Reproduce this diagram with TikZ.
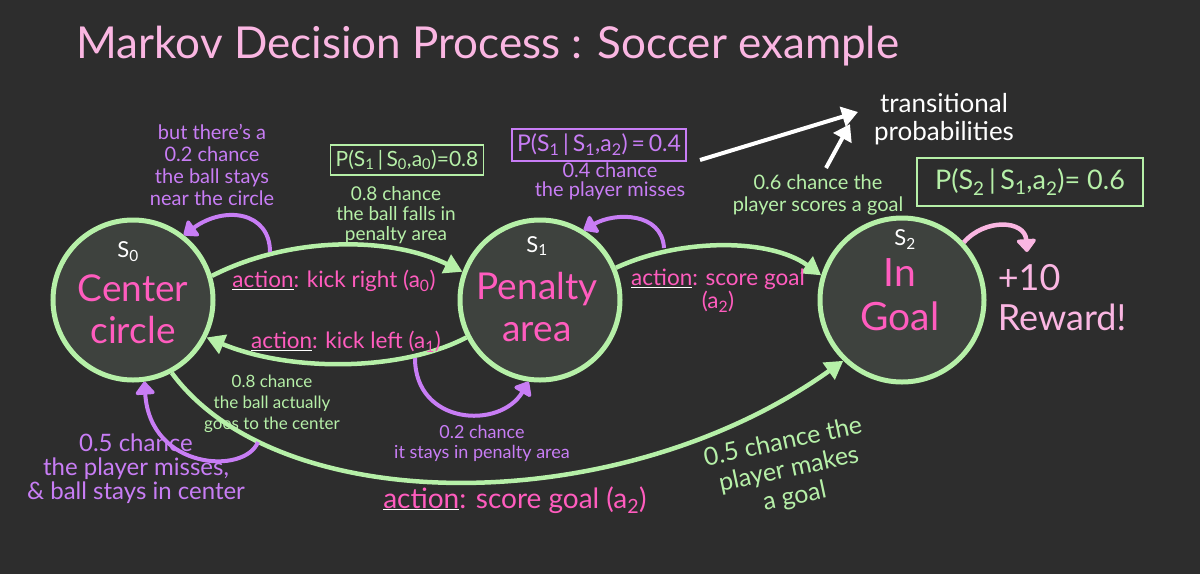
\documentclass[tikz,border=0pt]{standalone}
\usepackage{fontspec}
\setmainfont{Lato}
\usetikzlibrary{arrows.meta}
\definecolor{bg}{RGB}{45,45,45}
\definecolor{cfill}{RGB}{62,66,62}
\definecolor{grn}{RGB}{182,240,168}
\definecolor{hpink}{RGB}{255,92,190}
\definecolor{lpink}{RGB}{250,182,226}
\definecolor{purp}{RGB}{200,125,245}
\newcommand\fsz[2]{\fontsize{#1}{#2}\selectfont}
\newcommand\act{{\color{white}\underline{\color{hpink}action}}}
\tikzset{
  state/.style={circle, draw=grn, line width=5pt, fill=cfill, minimum size=160pt, inner sep=0pt},
  gedge/.style={draw=grn, line width=4.5pt, -{Triangle[length=18pt,width=20pt]}},
  ploop/.style={draw=purp, line width=4pt, -{Triangle[round,length=14pt,width=22pt]}},
  wline/.style={draw=white, line width=4pt, -{Triangle[length=16pt,width=20pt]}},
  rline/.style={draw=lpink, line width=4.5pt, -{Triangle[round,length=14pt,width=22pt]}},
  statelab/.style={text=white, font=\fsz{22}{24}},
  big/.style={text=hpink, align=center, font=\fsz{37}{42}},
  actlab/.style={text=hpink, align=center, font=\fsz{22.5}{23}},
  note/.style={align=center, font=\fsz{20}{22}, inner sep=1pt},
  pbox/.style={draw, line width=1.5pt, font=\fsz{21}{24}, inner sep=5pt}
}
\begin{document}
\begin{tikzpicture}[x=1pt,y=-1pt]
\fill[bg] (0,0) rectangle (1200,574);
\useasboundingbox (0,0) rectangle (1200,574);

% title
\node[text=lpink, font=\fsz{44}{50}] (title) at (488,46) {Markov Decision Process : Soccer example};

% states
\node[state] (s0) at (133,300) {};
\node[state] (s1) at (540,300) {};
\node[state, minimum size=164pt] (s2) at (902,300) {};

% edges
\draw[gedge] (s0.17) .. controls (290,236) and (390,236) .. (s1.160);
\draw[gedge] (s1.207) .. controls (400,372) and (290,372) .. (s0.333);
\draw[gedge] (s1.23) .. controls (680,238) and (770,238) .. (s2.163);
\draw[gedge] (s0.-62) .. controls (280,520) and (620,520) .. (s2.226);

% purple loops
\coordinate (c1) at (270,252);
\coordinate (c2) at (258,442);
\coordinate (c3) at (664,248);
\coordinate (c4) at (415,358);
\draw[ploop] (c1) .. controls (270,212) and (225,205) .. (s0.52);
\draw[ploop] (c2) .. controls (245,475) and (150,470) .. (s0.-82);
\draw[ploop] (c3) .. controls (662,212) and (615,212) .. (s1.58);
\draw[ploop] (c4) .. controls (415,425) and (500,430) .. (s1.-98);

% state texts
\node[statelab] (s0l) at (128,252) {S\textsubscript{0}};
\node[big] (s0t) at (133,309) {Center\\circle};
\node[statelab] (s1l) at (537,246) {S\textsubscript{1}};
\node[big] (s1t) at (537,307) {Penalty\\area};
\node[statelab] (s2l) at (905,240) {S\textsubscript{2}};
\node[big, font=\fsz{39}{44}] (s2t) at (900,295) {In\\Goal};

% action labels
\node[actlab] (a0) at (334,281) {\act: kick right (a\textsubscript{0})};
\node[actlab] (a1) at (346,342) {\act: kick left (a\textsubscript{1})};
\node[actlab] (a2) at (718,291) {\act: score goal\\(a\textsubscript{2})};
\node[actlab, font=\fsz{28}{30}] (a2b) at (515,500) {\act: score goal (a\textsubscript{2})};

% probability boxes
\node[pbox, draw=grn, text=grn] (p1) at (407,160) {P(S\textsubscript{1}\,|\,S\textsubscript{0},a\textsubscript{0})=0.8};
\node[pbox, draw=purp, text=purp, font=\fsz{23}{25}] (p2) at (599,145) {P(S\textsubscript{1}\,|\,S\textsubscript{1},a\textsubscript{2})\,=\,0.4};
\node[pbox, draw=grn, text=grn, font=\fsz{27}{30}, minimum width=226pt, minimum height=48pt] (p3) at (1030,182) {P(S\textsubscript{2}\,|\,S\textsubscript{1},a\textsubscript{2})= 0.6};

% notes
\node[note, text=purp] (n1) at (212,165) {but there's a\\0.2 chance\\the ball stays\\near the circle};
\node[note, text=grn, font=\fsz{19}{20}] (n2) at (396,215) {0.8 chance\\the ball falls in\\penalty area};
\node[note, text=purp, font=\fsz{20}{19}] (n3) at (610,181) {0.4 chance\\the player misses};
\node[note, text=grn] (n4) at (818,195) {0.6 chance the\\player scores a goal};
\node[note, text=grn, font=\fsz{17}{21}] (n5) at (272,404) {0.8 chance\\the ball actually\\goes to the center};
\node[note, text=purp, font=\fsz{24}{24}] (n6) at (136,469) {0.5 chance\\the player misses,\\\& ball stays in center};
\node[note, text=purp, font=\fsz{18}{20}] (n7) at (482,443) {0.2 chance\\it stays in penalty area};
\node[note, text=grn, font=\fsz{25}{28}, rotate=12] (n8) at (789,470) {0.5 chance the\\player makes\\a goal};

% transitional probabilities
\node[note, text=white, font=\fsz{26}{28}] (tp) at (944,119) {transitional\\probabilities};
\coordinate (w1) at (700,160);
\coordinate (w2) at (826,168);
\coordinate (wt) at (858,112);
\draw[wline] (w1) -- (wt);
\draw[wline] (w2) -- (850,124);

% reward
\coordinate (rw) at (1027,252);
\draw[rline] (s2.43) .. controls (985,218) and (1025,220) .. (rw);
\node[text=lpink, font=\fsz{36}{40}, align=left] (rew) at (1062,298) {+10\\Reward!};
\end{tikzpicture}
\end{document}
